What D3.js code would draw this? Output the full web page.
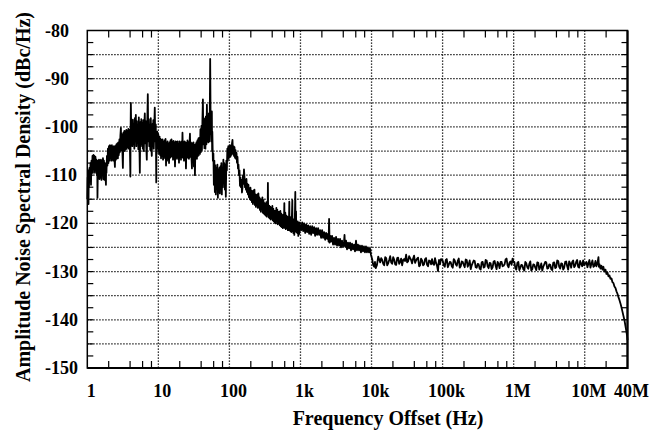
<!DOCTYPE html>
<html>
<head>
<meta charset="utf-8">
<script src="https://d3js.org/d3.v7.min.js"></script>
<style>
body{margin:0;background:#fff;}
text{font-family:"Liberation Serif","Times New Roman",serif;font-weight:bold;fill:#000;}
</style>
</head>
<body>
<div id="chart"></div>
<script>
// amplitude noise spectrum, [frequency Hz, dBc/Hz]
var decade1 = [[1.0,-115],[1.012,-110.5],[1.023,-113],[1.032,-109],[1.04,-116],[1.048,-110],[1.056,-112.5],[1.073,-108.5],[1.091,-111],[1.11,-107.5],[1.127,-112],[1.145,-107],[1.164,-109.5],[1.183,-106],[1.202,-109.5],[1.222,-105.8],[1.242,-108.8],[1.262,-106],[1.282,-109.5],[1.303,-106.2],[1.324,-109],[1.346,-106.8],[1.368,-110],[1.38,-107],[1.39,-114.7],[1.413,-107.2],[1.436,-110.5],[1.459,-106.8],[1.483,-110.8],[1.507,-107],[1.532,-110.5],[1.557,-106.8],[1.582,-111],[1.608,-107.2],[1.634,-110],[1.661,-106.5],[1.688,-110.8],[1.715,-107],[1.743,-111],[1.771,-107.5],[1.80,-110],[1.83,-112],[1.845,-107.5],[1.86,-109.5],[1.89,-106],[1.92,-108],[1.952,-104.5],[1.984,-107.5],[2.016,-104],[2.049,-107],[2.082,-103.8],[2.116,-106.5],[2.15,-104],[2.185,-107],[2.221,-103.8],[2.257,-106.8],[2.294,-104.2],[2.331,-107],[2.369,-104],[2.408,-106.5],[2.447,-108.3],[2.487,-104],[2.527,-106.8],[2.568,-103.6],[2.61,-106.5],[2.653,-103.4],[2.696,-106.5],[2.74,-103.2],[2.784,-105.8],[2.829,-102.6],[2.875,-105.2],[2.922,-101.8],[2.97,-100.2],[3.018,-104.8],[3.067,-101.5],[3.117,-105],[3.168,-108.5],[3.22,-101.2],[3.272,-104.5],[3.325,-100.8],[3.379,-105],[3.434,-101],[3.49,-104.6],[3.547,-100.6],[3.605,-104.5],[3.663,-100.8],[3.723,-104.2],[3.784,-100.4],[3.845,-104.5],[3.907,-100.6],[3.971,-104],[4.04,-110.3],[4.07,-100],[4.102,-95],[4.17,-102.5],[4.236,-99],[4.305,-104],[4.375,-98.5],[4.446,-103.5],[4.519,-99.5],[4.592,-104.5],[4.667,-98.2],[4.743,-103],[4.82,-97.5],[4.899,-104],[4.979,-98.8],[5.06,-103.2],[5.142,-99.6],[5.226,-104.6],[5.311,-98],[5.397,-103],[5.485,-109.5],[5.574,-99],[5.665,-104],[5.757,-98.4],[5.851,-103.6],[5.946,-99.2],[6.043,-104.5],[6.141,-98.6],[6.241,-105],[6.343,-99.5],[6.446,-97.2],[6.551,-103.4],[6.658,-98.8],[6.766,-104.2],[6.876,-106.8],[6.988,-99],[7.102,-93.2],[7.218,-103],[7.335,-98.4],[7.454,-104],[7.576,-99.6],[7.699,-104.8],[7.824,-98.2],[7.951,-103.2],[8.081,-106],[8.213,-99.4],[8.347,-103.8],[8.483,-98.6],[8.621,-104.5],[8.761,-99.8],[8.904,-96],[9.05,-103],[9.195,-99.5],[9.27,-104.5],[9.34,-111.5],[9.42,-102],[9.497,-105.5],[9.65,-101],[9.809,-104.5],[9.97,-101.5]];
var decade2 = [[10.23,-105.5],[10.4,-102],[10.56,-105.8],[10.73,-102.5],[10.91,-106.5],[11.09,-102.8],[11.27,-106],[11.45,-102.6],[11.64,-106.8],[11.83,-103.2],[12.02,-106.2],[12.22,-102.8],[12.42,-106.5],[12.62,-102.5],[12.82,-108],[13.03,-103.4],[13.24,-107],[13.46,-103],[13.68,-106.5],[13.9,-103.6],[14.13,-107.5],[14.36,-103.2],[14.59,-106.4],[14.83,-102.8],[15.07,-106.2],[15.32,-102.6],[15.57,-106],[15.82,-103.2],[16.08,-106.8],[16.34,-102.9],[16.61,-106.2],[16.88,-103.4],[17.15,-108.2],[17.43,-103],[17.71,-106],[18,-103.2],[18.3,-106.6],[18.6,-103],[18.9,-106.2],[19.21,-103.6],[19.52,-107.4],[19.84,-103],[20.16,-106.2],[20.49,-103.4],[20.82,-106.8],[21.16,-103],[21.5,-106.2],[21.85,-101.2],[22.21,-106.4],[22.57,-103.6],[22.94,-107],[23.31,-103],[23.69,-106.4],[24.08,-103.2],[24.47,-108.6],[24.87,-103.4],[25.27,-106],[25.68,-102.8],[26.1,-106.4],[26.53,-103.2],[26.96,-106.6],[27.4,-103.6],[27.84,-101.4],[28.29,-106.2],[28.75,-103.2],[29.22,-106.4],[29.7,-108.6],[30.18,-103.4],[30.67,-106.2],[31.17,-103.2],[31.68,-108.2],[32.2,-103.8],[32.72,-110],[33.25,-103.6],[33.79,-106.4],[34.34,-103.2],[34.9,-106.6],[35.47,-102.8],[36.05,-106],[36.64,-102.4],[37.23,-105.8],[37.84,-102.2],[38.45,-105.6],[39.08,-100.5],[39.71,-105.2],[40.36,-99.8],[41.02,-104.8],[41.69,-98.6],[42.36,-94.3],[43.0,-103.6],[43.75,-98.2],[44.46,-104.4],[45.19,-98.5],[45.92,-104.5],[46.67,-97.8],[47.43,-103.6],[48.2,-95.4],[49.0,-103],[49.79,-98.4],[50.6,-103.2],[51.4,-97.2],[52.1,-103],[52.8,-99.5],[53.6,-85.9],[54.5,-101.5],[55.1,-97.5],[55.8,-103],[56.6,-96.8],[57.1,-105],[57.5,-101],[58.5,-107],[59.5,-105.5],[60.4,-112],[61.4,-107],[62.4,-113.5],[63.4,-108],[64.4,-114],[65.5,-108.5],[66.6,-112.5],[67.7,-107.8],[68.8,-114.7],[69.9,-109],[71.0,-113.5],[72.2,-108.5],[73.4,-113.8],[74.6,-108.2],[75.8,-112.8],[77,-107.5],[78.2,-114],[79.5,-108.5],[80.8,-112.5],[82.2,-106.8],[83.5,-111.5],[84.8,-107.5],[86.2,-113],[87.6,-108],[89.0,-114.5],[90.5,-107],[92.0,-109],[93.5,-104.5],[95.0,-107],[96.5,-104],[98.1,-106.5]];
var decade3 = [[100.3,-105.2],[102,-103.8],[103.6,-106.2],[105.3,-104],[107,-105.8],[108.7,-103.4],[110.5,-102.7],[112.3,-105.6],[114.2,-104],[116,-106],[117.9,-104.2],[119.8,-106.4],[121.8,-104.8],[123.8,-106.6],[125.8,-105.4],[127.8,-107.4],[129.9,-106.2],[132,-108.6],[134.1,-107.8],[136.3,-110],[138.6,-109],[140.8,-112.2],[143.1,-110.5],[145.4,-112.5],[147.8,-111],[150.2,-113.6],[152.7,-112.6],[155.2,-110],[157.7,-111.8],[160.3,-108.8],[162.9,-110.4],[165.6,-112.5],[168.3,-111],[171,-113],[173.7,-110.8],[176.5,-113.5],[179.4,-111.8],[182.4,-114],[185.4,-112],[188.4,-114.6],[191.5,-112.8],[194.6,-115],[197.8,-112.6],[201,-115.2],[204.2,-113.2],[207.6,-115.6],[211,-113.4],[214.4,-116],[217.8,-113.2],[221.4,-115.6],[225,-113],[228.7,-116.2],[232.4,-114],[236.2,-116.6],[240,-114.2],[243.9,-116.2],[247.9,-114],[252,-116.8],[256,-113.8],[260.2,-116.6],[264.4,-114.6],[268.7,-117.2],[273,-115],[277.5,-117.6],[282,-115.2],[286.5,-117],[291,-114.6],[295.9,-117.8],[300.9,-115.2],[305.9,-118],[311,-115.8],[316,-118.2],[320.9,-116],[326,-118.4],[331,-115.6],[336.6,-118.6],[342.3,-116.2],[345,-118],[348,-111.6],[351,-118],[353.5,-116.2],[359,-118.8],[365.2,-116.4],[371,-119],[377,-116.6],[383,-119.2],[389.5,-116.8],[396,-119],[402,-116.4],[409,-119.4],[415.5,-117],[422,-119.6],[429,-117.4],[436,-119.8],[443.2,-117.4],[450,-120],[458,-116.8],[465,-119.6],[472.8,-117.2],[480,-120.2],[488,-117.6],[496,-120],[504.4,-117.6],[512,-120.4],[521,-117.4],[529,-120.6],[538,-118],[547,-120.8],[556,-118.4],[565,-121],[573.9,-118.2],[583,-120.8],[592.7,-115.8],[597,-120.6],[602,-118.2],[607,-121],[612,-117.8],[622,-121.2],[632.2,-118.4],[642,-121],[653,-118.6],[664,-121.4],[674.5,-118.8],[685,-121.4],[696.5,-115.5],[702,-121.2],[708,-118.6],[719,-121.6],[731,-118.8],[743,-121.8],[755,-119.2],[767.5,-115.2],[773,-121.6],[780,-119],[793,-122],[806,-119.4],[818.6,-122.4],[832,-119.4],[845.6,-113.5],[852,-121.6],[859,-119.2],[866,-117.5],[873,-121.8],[887,-119.6],[902,-122],[916,-119.6],[931.5,-122.6],[947,-120],[962,-122.2],[978,-119.8],[993.7,-121]];
var decade4 = [[1023,-121.4],[1057,-119.8],[1091,-121.6],[1127,-120],[1164,-122],[1202,-120.2],[1242,-121.8],[1282,-120.4],[1324,-122.2],[1368,-120.6],[1413,-122.4],[1459,-120.6],[1507,-122],[1557,-120.8],[1608,-122.6],[1661,-121],[1715,-122.4],[1771,-121],[1830,-122.4],[1890,-121.4],[1952,-123],[2016,-121.4],[2082,-123],[2150,-121.8],[2221,-123.4],[2294,-122],[2369,-123.2],[2430,-122.2],[2487,-123.8],[2527,-119.1],[2568,-124],[2632,-122.6],[2696,-123.8],[2784,-122.6],[2875,-124.4],[2970,-123],[3067,-124.4],[3168,-122.8],[3272,-124.6],[3379,-123.2],[3490,-124.6],[3605,-123.2],[3723,-125],[3845,-123.6],[3971,-124.8],[4100,-123.8],[4168,-122.4],[4236,-124.8],[4375,-123.6],[4519,-125.4],[4667,-124],[4820,-125.2],[4979,-124],[5142,-125.6],[5311,-124.2],[5485,-125.4],[5665,-124.4],[5851,-125.8],[6043,-123.6],[6241,-125.6],[6446,-124.4],[6658,-125.6],[6876,-124.6],[7102,-126],[7335,-124.6],[7576,-125.8],[7824,-124.8],[8081,-126],[8347,-124.8],[8621,-126],[8904,-125],[9195,-126],[9497,-125.2],[9809,-126.5]];
var decade5 = [[10230,-127.5],[10570,-128.7],[10910,-129],[11180,-128],[11450,-129.3],[11930,-128.6],[12420,-126.9],[12830,-127.5],[13240,-128.1],[13680,-127.2],[14130,-127.6],[14600,-128.4],[15070,-128.7],[15570,-127],[16080,-127.2],[16610,-128.7],[17150,-128.3],[17720,-127.6],[18300,-126.8],[18900,-128.1],[19520,-128.4],[20160,-127],[20820,-127.5],[21500,-128.5],[22210,-128.6],[22940,-127.2],[23690,-127.1],[24480,-128.4],[25270,-128],[26100,-127.3],[26960,-128.7],[27850,-127.6],[28750,-127.4],[29700,-127.8],[30670,-126.5],[31680,-128.1],[32720,-127.9],[33800,-126.8],[34900,-127.2],[36050,-127.6],[37230,-128.3],[38460,-127.3],[39710,-126.7],[41020,-128.2],[42360,-127.7],[43760,-127.3],[45190,-127.1],[46680,-128.9],[48200,-128.7],[49790,-127.3],[51420,-127.7],[53110,-128.7],[54850,-128.5],[56660,-127.4],[58510,-127.2],[60440,-128.6],[62410,-128.9],[64470,-127.7],[66580,-127.8],[68770,-128.5],[71020,-127.4],[73360,-128.4],[75760,-128.6],[78250,-127.2],[80810,-128.2],[83470,-128.8],[86210,-129.9],[87600,-128.4],[89040,-127.6],[90500,-127.8],[91950,-128.5],[95000,-127.4],[98090,-127.5]];
var decade6 = [[100600,-127.8],[103900,-128.7],[107300,-129],[110900,-127.6],[114500,-127.4],[118300,-129.1],[122100,-128.6],[126200,-128],[130300,-128.1],[134600,-128.9],[139000,-129.2],[143600,-127.4],[148200,-127.7],[153100,-128.5],[158200,-128.8],[163400,-127.8],[168800,-127.3],[174300,-129.2],[179900,-128.9],[185900,-127.9],[192000,-128],[198300,-128.6],[204800,-129.1],[211500,-127.5],[218400,-127.6],[225700,-129],[233100,-128.5],[240800,-127.7],[248600,-129.5],[256900,-128.7],[265200,-128.2],[274000,-127.7],[282900,-127.8],[292300,-129.1],[301800,-129.2],[311800,-128.4],[321900,-128.5],[332500,-129.4],[343300,-129.6],[354700,-128.1],[366300,-128],[378400,-129.2],[390700,-129],[403600,-127.6],[416800,-127.7],[430500,-128.9],[444500,-129.3],[459200,-128.2],[474200,-128.3],[489800,-129.5],[505900,-129.1],[522600,-127.9],[539600,-127.8],[557400,-128.8],[575600,-129.5],[594600,-128],[614000,-128.4],[634300,-129.3],[654900,-128],[676500,-128],[698600,-128.9],[721800,-128.8],[745200,-128.5],[769800,-127.5],[794900,-127.3],[821000,-128.7],[848100,-129.1],[876000,-128.1],[904600,-127.9],[934300,-128.6],[964900,-127.3],[995000,-128]];
var decade7 = [[1.023e6,-128],[1.057e6,-129.3],[1.091e6,-129.6],[1.127e6,-128.2],[1.164e6,-128],[1.202e6,-129.7],[1.242e6,-129.2],[1.282e6,-128.6],[1.324e6,-128.7],[1.368e6,-129.5],[1.413e6,-129.8],[1.459e6,-128],[1.507e6,-128.3],[1.557e6,-129.1],[1.608e6,-129.4],[1.661e6,-128.4],[1.715e6,-127.9],[1.771e6,-129.8],[1.83e6,-129.5],[1.89e6,-128.5],[1.952e6,-128.6],[2.016e6,-129.2],[2.082e6,-129.7],[2.15e6,-128.1],[2.221e6,-128.2],[2.294e6,-129.6],[2.369e6,-129.1],[2.447e6,-128.3],[2.527e6,-129.8],[2.61e6,-129],[2.696e6,-128.5],[2.784e6,-128],[2.875e6,-128.1],[2.97e6,-129.4],[3.067e6,-129.3],[3.168e6,-128.5],[3.272e6,-128.6],[3.379e6,-129.5],[3.49e6,-129.7],[3.605e6,-128.2],[3.723e6,-128.1],[3.845e6,-129.3],[3.971e6,-129.1],[4.102e6,-127.7],[4.236e6,-127.8],[4.375e6,-129],[4.519e6,-129.4],[4.667e6,-128.3],[4.82e6,-128.4],[4.979e6,-129.6],[5.142e6,-129.2],[5.311e6,-128],[5.485e6,-127.9],[5.665e6,-128.9],[5.851e6,-129.6],[6.043e6,-127.9],[6.241e6,-128.3],[6.446e6,-129.2],[6.658e6,-128],[6.876e6,-127.7],[7.102e6,-129.1],[7.335e6,-128.8],[7.576e6,-128],[7.824e6,-127.6],[8.081e6,-129],[8.347e6,-129.2],[8.621e6,-127.8],[8.904e6,-128.4],[9.195e6,-128.9],[9.497e6,-127.7],[9.809e6,-128.7]];
var rolloff = [[1.057e7,-128],[1.092e7,-129.1],[1.128e7,-128.3],[1.165e7,-127.6],[1.203e7,-129.2],[1.242e7,-128.4],[1.283e7,-127.7],[1.326e7,-129],[1.371e7,-128.8],[1.416e7,-127.8],[1.462e7,-128.9],[1.51e7,-128.3],[1.56e7,-127],[1.585e7,-129],[1.62e7,-128.5],[1.663e7,-129.4],[1.72e7,-128.8],[1.775e7,-129.6],[1.83e7,-129],[1.894e7,-130],[1.96e7,-129.6],[2.021e7,-130.5],[2.09e7,-130.2],[2.157e7,-131],[2.23e7,-130.8],[2.302e7,-131.5],[2.38e7,-131.4],[2.456e7,-132.2],[2.54e7,-132.4],[2.621e7,-133.1],[2.71e7,-133.4],[2.796e7,-134.1],[2.89e7,-134.6],[2.984e7,-135.3],[3.08e7,-135.9],[3.184e7,-136.6],[3.29e7,-137.4],[3.397e7,-138.3],[3.51e7,-139.2],[3.625e7,-140.1],[3.745e7,-141.3],[3.868e7,-142.5],[3.95e7,-143.4],[4.0e7,-144.2]];

var yTickValues = [-80,-90,-100,-110,-120,-130,-140,-150];
var yGridValues = [-85,-90,-95,-100,-105,-110,-115,-120,-125,-130,-135,-140,-145];
var xTickValues = [1,10,100,1e3,1e4,1e5,1e6,1e7,4e7];
var xTickLabels = ["1","10","100","1k","10k","100k","1M","10M","40M"];
var xGridValues = [10,100,1e3,1e4,1e5,1e6,1e7];
var minorMantissa = [2,4,6,8];

var width = 661, height = 432;
// note: "top" is taken by window.top, so plot edges get their own names
var plotLeft = 87.3, plotRight = 627.5, plotTop = 30.5, plotBottom = 368;

var spectrum = decade1.concat(decade2, decade3, decade4, decade5, decade6, decade7, rolloff);

var x = d3.scaleLog().domain([1,4e7]).range([plotLeft,plotRight]);
var y = d3.scaleLinear().domain([-150,-80]).range([plotBottom,plotTop]);

var svg = d3.select("#chart").append("svg")
  .attr("width", width)
  .attr("height", height);

//dotted grid
var grid = svg.append("g")
  .attr("stroke","#000")
  .attr("stroke-width",1.3)
  .attr("stroke-dasharray","1.3,1.7");
grid.selectAll(".gx").data(xGridValues).enter().append("line")
  .attr("x1",function(d){return x(d);})
  .attr("x2",function(d){return x(d);})
  .attr("y1",plotTop)
  .attr("y2",plotBottom);
grid.selectAll(".gy").data(yGridValues).enter().append("line")
  .attr("x1",plotLeft)
  .attr("x2",plotRight)
  .attr("y1",function(d){return y(d);})
  .attr("y2",function(d){return y(d);});

//minor ticks, inside the frame
var minorX = [];
for(var k=0;k<8;k++){
  for(var j=0;j<minorMantissa.length;j++){
    var f = minorMantissa[j]*Math.pow(10,k);
    if(f < 4e7) minorX.push(f);
  }
}
var ticks = svg.append("g").attr("stroke","#000").attr("stroke-width",1.2);
ticks.selectAll(".tb").data(minorX).enter().append("line")
  .attr("x1",function(d){return x(d);}).attr("x2",function(d){return x(d);})
  .attr("y1",plotBottom).attr("y2",plotBottom-7);
ticks.selectAll(".tt").data(minorX).enter().append("line")
  .attr("x1",function(d){return x(d);}).attr("x2",function(d){return x(d);})
  .attr("y1",plotTop).attr("y2",plotTop+7);
var minorY = d3.range(-147.5,-80,2.5);
ticks.selectAll(".tl").data(minorY).enter().append("line")
  .attr("x1",plotLeft).attr("x2",plotLeft+6)
  .attr("y1",function(d){return y(d);}).attr("y2",function(d){return y(d);});
ticks.selectAll(".tr").data(minorY).enter().append("line")
  .attr("x1",plotRight-6).attr("x2",plotRight)
  .attr("y1",function(d){return y(d);}).attr("y2",function(d){return y(d);});

//the measured curve
var line = d3.line()
  .x(function(d){return x(d[0]);})
  .y(function(d){return y(d[1]);});
svg.append("path")
  .datum(spectrum)
  .attr("d",line)
  .attr("fill","none")
  .attr("stroke","#000")
  .attr("stroke-width",1.8)
  .attr("stroke-linejoin","round");

//frame
svg.append("rect")
  .attr("x",plotLeft).attr("y",plotTop)
  .attr("width",plotRight-plotLeft).attr("height",plotBottom-plotTop)
  .attr("fill","none").attr("stroke","#000").attr("stroke-width",1.5);
svg.append("path")
  .attr("d","M"+plotLeft+","+plotBottom+"H"+plotRight+"V"+plotTop)
  .attr("fill","none").attr("stroke","#000").attr("stroke-width",2.2);

//tick labels
svg.selectAll(".xl").data(xTickValues).enter().append("text")
  .attr("x",function(d){return x(d)+4;})
  .attr("y",397)
  .attr("text-anchor","middle")
  .style("font-size","18px")
  .text(function(d,i){return xTickLabels[i];});
svg.selectAll(".yl").data(yTickValues).enter().append("text")
  .attr("x",45)
  .attr("y",function(d){return y(d)+6;})
  .style("font-size","18px")
  .text(function(d){return d;});

//axis titles
svg.append("text")
  .attr("x",388).attr("y",425)
  .attr("text-anchor","middle")
  .style("font-size","20px")
  .text("Frequency Offset (Hz)");
svg.append("text")
  .attr("transform","translate(30,197) rotate(-90)")
  .attr("text-anchor","middle")
  .style("font-size","20px")
  .text("Amplitude Noise Spectral Density (dBc/Hz)");
</script>
</body>
</html>
